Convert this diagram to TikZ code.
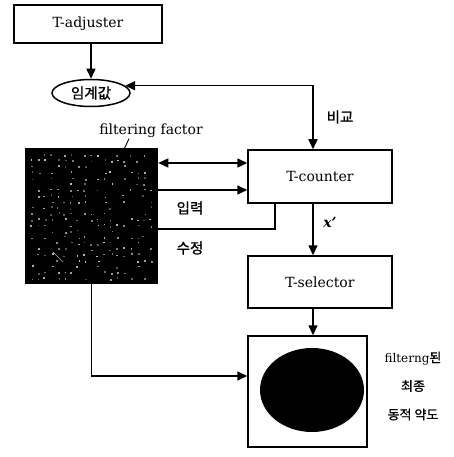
\documentclass[tikz,border=0pt]{standalone}
\usepackage{fontspec}
\setmainfont{DejaVu Serif}
\newfontfamily\kr[FakeBold=1.2]{Noto Sans CJK KR}
\usetikzlibrary{arrows.meta,shapes.geometric,calc}
\begin{document}
\begin{tikzpicture}[x=1pt,y=-1pt,line width=1.5pt,
  blk/.style={draw,rectangle,inner sep=0pt,font=\fontsize{14}{16}\selectfont},
  lbl/.style={inner sep=0pt,font=\fontsize{14}{16}\selectfont},
  krl/.style={inner sep=0pt,font=\kr\fontsize{14.5}{16}\selectfont},
  arr/.style={-{Triangle[length=10pt,width=9pt]}},
  darr/.style={{Triangle[length=10pt,width=9pt]}-{Triangle[length=10pt,width=9pt]}}]
\useasboundingbox (0,0) rectangle (453,457);
% blocks
\node[blk,minimum width=148pt,minimum height=38pt] (adj) at (88,24) {T-adjuster};
\node[draw,ellipse,inner sep=0pt,minimum width=78pt,minimum height=27pt,font=\kr\fontsize{14.5}{16}\selectfont] (thr) at (91,93) {임계값};
\node[blk,minimum width=144pt,minimum height=53pt] (tcnt) at (320,176.5) {T-counter};
\node[blk,minimum width=144pt,minimum height=52pt] (tsel) at (320,282) {T-selector};
\node[blk,minimum width=119pt,minimum height=111pt] (fin) at (307.5,391.5) {};
\fill (312,390) ellipse [x radius=52pt, y radius=42pt];
% filtering factor image
\node[draw,fill=black,rectangle,minimum width=132pt,minimum height=134pt,inner sep=0pt] (img) at (91.5,216) {};
\pgfmathsetseed{5}
\foreach \i in {0,...,18}{
  \foreach \j in {0,...,21}{
    \pgfmathsetmacro\r{rnd}
    \pgfmathsetmacro\g{int(25+rnd*45)}
    \ifdim\r pt<0.45pt
      \fill[black!\g!white] ({30+\i*6.6+rnd*2.5},{153+\j*5.9+rnd*2.5}) rectangle ++(1.7,1.6);
    \fi
  }
}
\draw[gray!60,line width=0.6pt] (53,252) -- (63,262);
% labels
\node[lbl] (ff) at (151,131) {filtering factor};
\draw[line width=0.9pt] ([xshift=33pt]img.north) -- ([xshift=-22pt]ff.south);
\node[krl] (cmp) at (340,117) {비교};
\node[krl] (inp) at (190,208) {입력};
\node[krl] (mod) at (190,248) {수정};
\node[lbl,font=\fontsize{14}{16}\selectfont\itshape\bfseries] (xp) at (330,222) {x'};
\node[align=center,inner sep=0pt,font=\fontsize{12}{28.5}\selectfont] (res) at (413,386)
  {filterng{\kr\fontsize{13}{28.5}\selectfont 된}\\{\kr\fontsize{13}{28.5}\selectfont 최종}\\{\kr\fontsize{13}{28.5}\selectfont 동적 약도}};
% connectors
\coordinate (tsb) at ([xshift=-7pt]tsel.south);
\draw[arr] (thr.north |- adj.south) -- (thr.north);
\draw[darr] (thr.12) -| ([xshift=-7pt]tcnt.north);
\draw[darr] (img.east |- 0,163) -- (tcnt.west |- 0,163);
\draw[arr] (img.east |- 0,190) -- (tcnt.west |- 0,190);
\draw (img.east |- 0,229) -| ([xshift=-45pt]tcnt.south);
\draw[arr] ([xshift=-7pt]tcnt.south) -- ([xshift=-7pt]tsel.north);
\draw[arr] (tsb) -- (fin.north -| tsb);
\draw[arr] (img.south) |- (fin.west |- 0,376);
\end{tikzpicture}
\end{document}
